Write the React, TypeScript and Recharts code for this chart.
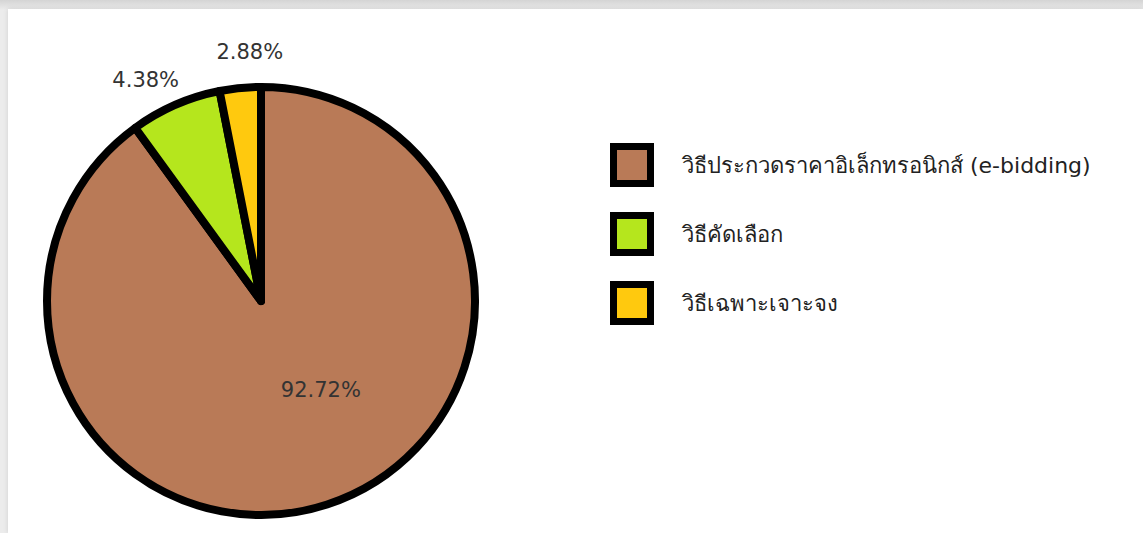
import React from 'react';
import { PieChart, Pie, Cell, Legend } from 'recharts';

// slice sizes as drawn in the picture (percent of the circle)
const categories = [
  'วิธีประกวดราคาอิเล็กทรอนิกส์ (e-bidding)',
  'วิธีคัดเลือก',
  'วิธีเฉพาะเจาะจง',
];
const sliceValues = [90.0, 6.9, 3.1];
// percentages printed on the chart
const percentLabels = ['92.72%', '4.38%', '2.88%'];
const colors = ['#b97a57', '#b5e61d', '#ffc90e'];

const data = categories.map((name, i) => ({ name, value: sliceValues[i], label: percentLabels[i] }));

const RADIAN = Math.PI / 180;
const FONT = 'Tahoma, Verdana, "DejaVu Sans", sans-serif';

const renderLabel = (props: any) => {
  const { cx, cy, midAngle, outerRadius, index } = props;
  let x: number;
  let y: number;
  if (index === 0) {
    const a = (midAngle + 16) * RADIAN;
    const r = outerRadius * 0.5;
    x = cx + r * Math.cos(a);
    y = cy - r * Math.sin(a);
  } else {
    const a = (midAngle + (index === 1 ? 4 : -3)) * RADIAN;
    const r = outerRadius + 35;
    x = cx + r * Math.cos(a);
    y = cy - r * Math.sin(a);
  }
  return (
    <text
      x={x}
      y={y}
      fill="#333"
      fontSize={21}
      fontFamily={FONT}
      textAnchor="middle"
      dominantBaseline="central"
    >
      {percentLabels[index]}
    </text>
  );
};

const renderLegend = () => (
  <div style={{ fontFamily: FONT }}>
    {data.map((d, i) => (
      <div key={d.name} style={{ display: 'flex', alignItems: 'center', height: 44, marginBottom: 25 }}>
        <div
          style={{
            width: 30,
            height: 30,
            border: '7px solid #000',
            background: colors[i],
          }}
        />
        <span style={{ marginLeft: 28, fontSize: 22, color: '#222' }}>{d.name}</span>
      </div>
    ))}
  </div>
);

export default function App() {
  return (
    <div
      style={{
        position: 'fixed',
        left: 0,
        top: 0,
        width: 1143,
        height: 533,
        background: 'linear-gradient(#d4d4d4, #ececec 10px)',
        overflow: 'hidden',
      }}
    >
      <div
        style={{
          position: 'absolute',
          left: 8,
          top: 9,
          width: 1135,
          height: 524,
          background: '#fff',
          boxShadow: '0 0 5px rgba(0,0,0,0.12)',
        }}
      >
        <PieChart width={1135} height={524}>
          <Pie
            data={data}
            dataKey="value"
            nameKey="name"
            cx={248}
            cy={287}
            outerRadius={214}
            startAngle={90}
            endAngle={-270}
            stroke="#000"
            strokeWidth={8}
            strokeLinejoin="round"
            label={renderLabel}
            labelLine={false}
            isAnimationActive={false}
          >
            {data.map((d, i) => (
              <Cell key={d.name} fill={colors[i]} />
            ))}
          </Pie>
          <Legend
            content={renderLegend}
            layout="vertical"
            wrapperStyle={{ position: 'absolute', left: 602, top: 134, width: 520, bottom: 'auto' }}
          />
        </PieChart>
      </div>
    </div>
  );
}
